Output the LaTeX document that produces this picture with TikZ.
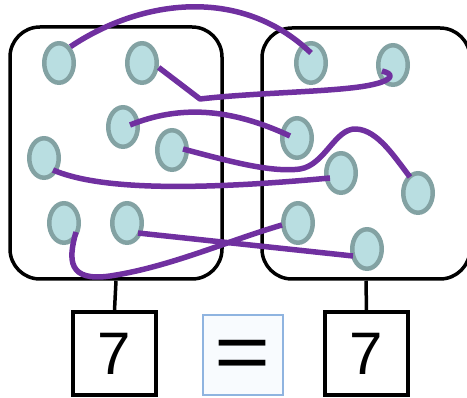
\documentclass[tikz,border=0pt]{standalone}
\usepackage{fontspec}
\setmainfont{Liberation Sans}
\usetikzlibrary{shapes.geometric}
\definecolor{ballfill}{HTML}{B9DEE1}
\definecolor{balledge}{HTML}{83A2A3}
\definecolor{linkcol}{HTML}{7030A0}
\definecolor{eqedge}{HTML}{8FB4E0}
\definecolor{eqfill}{HTML}{F8FBFE}
\tikzset{ball/.style={ellipse, draw=balledge, fill=ballfill, line width=4.5pt, minimum width=29.5pt, minimum height=39.5pt, inner sep=0pt}}
\tikzset{setbox/.style={draw, rounded corners=30pt, inner sep=0pt}, numbox/.style={draw, minimum size=83pt, inner sep=0pt, font=\fontsize{60}{60}\selectfont}, link/.style={draw=linkcol, line width=5.5pt, line join=round}}

\begin{document}
\begin{tikzpicture}[x=1pt,y=-1pt,line width=3.5pt]
   \useasboundingbox (0,0) rectangle (467,398);
   \clip (0,0) rectangle (467,398);
   \node[setbox, minimum width=212pt, minimum height=252pt] (lbox) at (116,153) {};
   \node[setbox, minimum width=208pt, minimum height=251pt] (rbox) at (366,153.5) {};
   \node[numbox] (lnum) at (114.5,353.5) {7};
   \node[numbox] (rnum) at (366.5,353.5) {7};
   \node[draw=eqedge, fill=eqfill, line width=2pt, minimum size=80pt, inner sep=0pt, text height=50pt, text depth=0pt, font=\fontsize{80}{80}\selectfont] (eq) at (243,355) {\scalebox{1.2}[1]{=}};
   \draw (lbox.south) -- (lnum.north);
   \draw (rbox.south) -- (rnum.north);
   \node[ball] (a1) at ( 59, 63) {};
   \node[ball] (a2) at (142, 63) {};
   \node[ball] (a3) at (123,127) {};
   \node[ball] (a4) at (172,150) {};
   \node[ball] (a5) at ( 44,158) {};
   \node[ball] (a6) at ( 64,223) {};
   \node[ball] (a7) at (127,223) {};
   \node[ball] (b1) at (311, 63) {};
   \node[ball] (b2) at (393, 65) {};
   \node[ball] (b3) at (297,138) {};
   \node[ball] (b4) at (341,173) {};
   \node[ball] (b5) at (418,193) {};
   \node[ball] (b6) at (298,223) {};
   \node[ball] (b7) at (367,249) {};
   \coordinate (kink) at (200,99);
   \draw[link] (a1.55) .. controls (140,0) and (240,-15) .. ([yshift=10pt]b1.center);
   \draw[link] (a2.-15) -- (kink) .. controls (260,92) and (345,92) .. (375,84)
               .. controls (392,80) and (395,74) .. ([xshift=-11pt,yshift=-6pt]b2.center);
   \draw[link] ([xshift=7pt,yshift=2pt]a3.center) .. controls (180,105) and (230,108) .. ([xshift=-7pt,yshift=2pt]b3.center);
   \draw[link] ([xshift=11pt,yshift=1pt]a4.center) .. controls (225,160) and (270,173) .. (300,169)
               .. controls (325,165) and (335,128) .. (356,129)
               .. controls (378,130) and (395,158) .. ([xshift=-8pt,yshift=16pt]b5.center);
   \draw[link] ([xshift=9pt,yshift=-12pt]a5.center) .. controls (95,188) and (180,192) .. ([xshift=-11pt,yshift=-5pt]b4.center);
   \draw[link] ([xshift=12pt,yshift=-9pt]a6.center) .. controls (68,260) and (68,282) .. (110,276)
               .. controls (170,267) and (230,240) .. ([xshift=-16pt,yshift=-2pt]b6.center);
   \draw[link] ([xshift=11pt,yshift=-10pt]a7.center) -- ([xshift=-14pt,yshift=-7pt]b7.center);
\end{tikzpicture}
\end{document}
